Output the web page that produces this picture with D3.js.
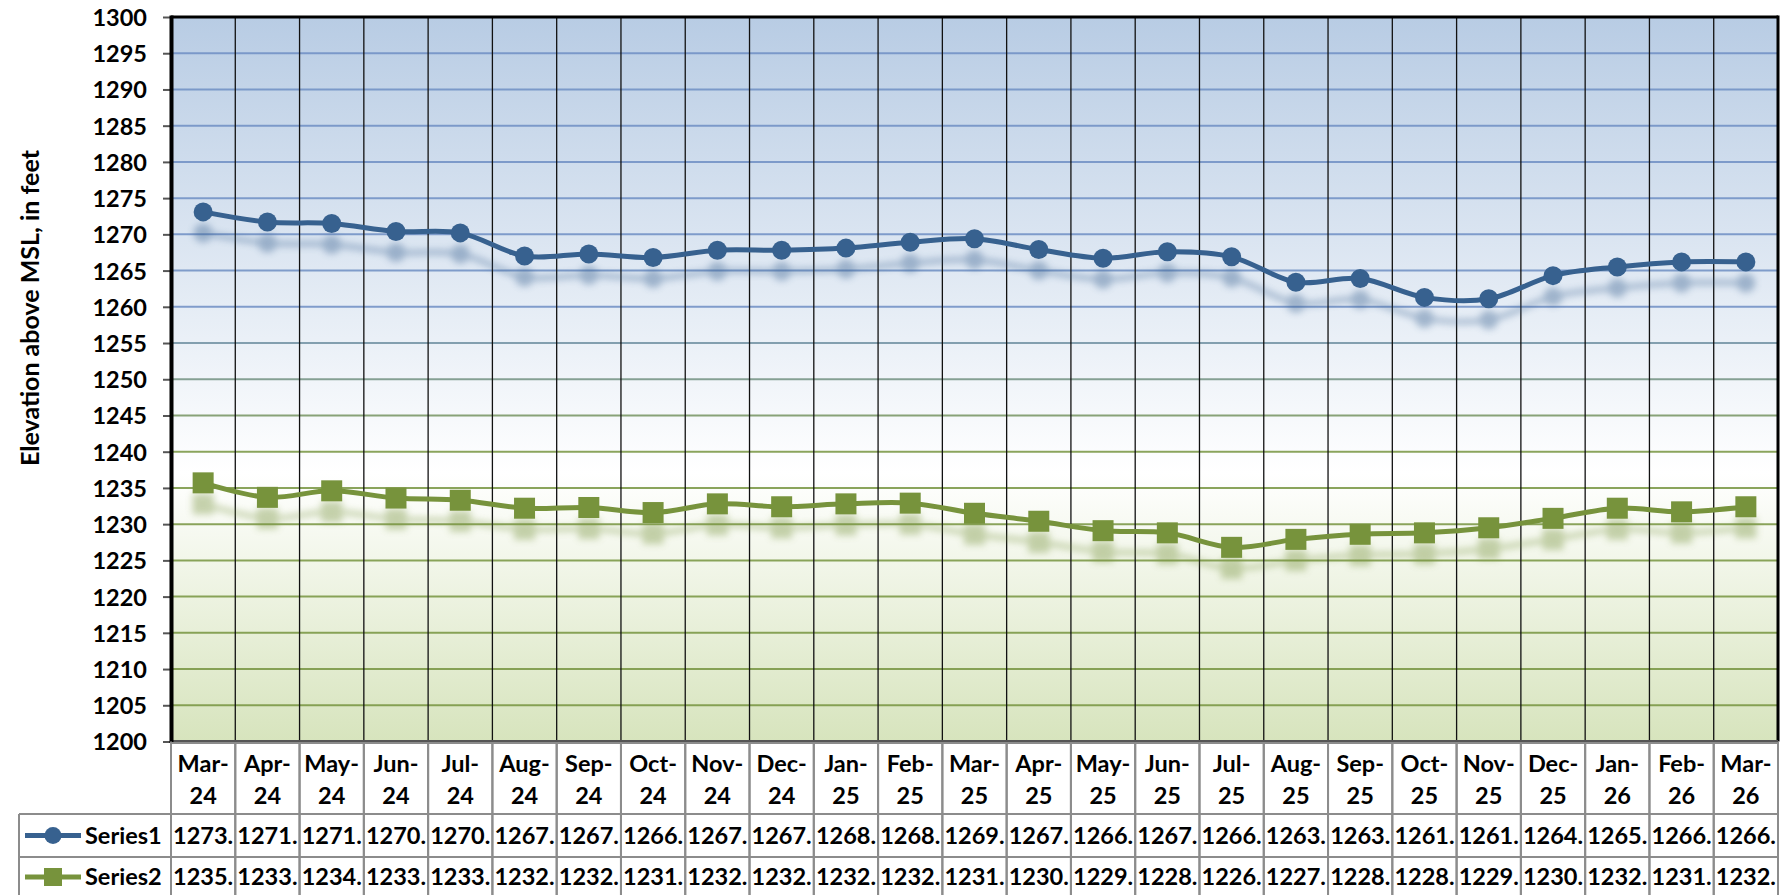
<!DOCTYPE html>
<html>
<head>
<meta charset="utf-8">
<script src="https://cdn.jsdelivr.net/npm/d3@7"></script>
<style>
  html, body { margin: 0; padding: 0; background: #fff; }
  svg text { font-family: Lato, "Open Sans", sans-serif; font-weight: 700; fill: #000; }
</style>
</head>
<body>
<div id="chart"></div>
<script>
const categories = ["Mar-24", "Apr-24", "May-24", "Jun-24", "Jul-24", "Aug-24", "Sep-24", "Oct-24",
  "Nov-24", "Dec-24", "Jan-25", "Feb-25", "Mar-25", "Apr-25", "May-25", "Jun-25", "Jul-25",
  "Aug-25", "Sep-25", "Oct-25", "Nov-25", "Dec-25", "Jan-26", "Feb-26", "Mar-26"];
const series1 = [1273.1, 1271.7, 1271.5, 1270.4, 1270.2, 1267.0, 1267.3, 1266.8, 1267.8, 1267.8,
  1268.1, 1268.9, 1269.4, 1267.9, 1266.7, 1267.6, 1266.9, 1263.4, 1263.9, 1261.3, 1261.1,
  1264.3, 1265.5, 1266.2, 1266.2];
const series2 = [1235.7, 1233.7, 1234.6, 1233.6, 1233.3, 1232.2, 1232.3, 1231.6, 1232.8, 1232.4,
  1232.8, 1232.9, 1231.5, 1230.4, 1229.1, 1228.8, 1226.8, 1227.9, 1228.6, 1228.8, 1229.5,
  1230.8, 1232.2, 1231.7, 1232.4];
const seriesNames = ["Series1", "Series2"];
const yTicks = d3.range(1200, 1301, 5);
const yTitle = "Elevation above MSL, in feet";

const width = 1785, height = 895;
const plotLeft = 171, plotRight = 1778, plotTop = 17, plotBottom = 741.5;
const rowBottoms = [814, 857, 900];
const fontSize = 23.5;

const svg = d3.select("#chart").append("svg")
    .attr("width", width)
    .attr("height", height);

const defs = svg.append("defs");
const bg = defs.append("linearGradient").attr("id", "bg")
    .attr("x1", 0).attr("y1", 0).attr("x2", 0).attr("y2", 1);
bg.append("stop").attr("offset", "0%").attr("stop-color", "#b8cce4");
bg.append("stop").attr("offset", "63%").attr("stop-color", "#ffffff");
bg.append("stop").attr("offset", "100%").attr("stop-color", "#d7e4bd");

defs.append("filter").attr("id", "blur")
    .attr("x", "-10%").attr("y", "-50%").attr("width", "120%").attr("height", "200%")
  .append("feGaussianBlur").attr("stdDeviation", 3.5);

const x = d3.scaleBand().domain(categories).range([plotLeft, plotRight]);
const y = d3.scaleLinear().domain([1200, 1300]).range([plotBottom, plotTop]);

// plot background
svg.append("rect")
    .attr("x", plotLeft).attr("y", plotTop)
    .attr("width", plotRight - plotLeft).attr("height", plotBottom - plotTop)
    .attr("fill", "url(#bg)");

// horizontal gridlines, blue at the top fading to green
const gridColor = d3.scaleLinear().domain([1260, 1240])
    .range(["#6f8fc4", "#779540"]).clamp(true);
svg.append("g").selectAll("line")
    .data(yTicks.filter(d => d > 1200 && d < 1300))
    .join("line")
    .attr("x1", plotLeft).attr("x2", plotRight)
    .attr("y1", d => y(d)).attr("y2", d => y(d))
    .attr("stroke", d => gridColor(d))
    .attr("stroke-width", 2)
    .attr("opacity", 0.85);

// vertical gridlines between categories
svg.append("g").selectAll("line")
    .data(categories.slice(1))
    .join("line")
    .attr("x1", d => x(d)).attr("x2", d => x(d))
    .attr("y1", plotTop).attr("y2", plotBottom)
    .attr("stroke", "#111")
    .attr("stroke-width", 1.3);

// y axis
const yAxis = svg.append("g")
    .attr("transform", `translate(${plotLeft},0)`)
    .call(d3.axisLeft(y).tickValues(yTicks).tickSize(8).tickPadding(16).tickFormat(d3.format("d")));
yAxis.select(".domain").remove();
yAxis.selectAll(".tick line").attr("stroke", "#555").attr("stroke-width", 2);
yAxis.selectAll(".tick text")
    .attr("font-size", fontSize)
    .attr("dy", "0.36em");

svg.append("text")
    .attr("transform", `translate(39,308) rotate(-90)`)
    .attr("text-anchor", "middle")
    .attr("font-size", 25)
    .text(yTitle);

// plot frame
svg.append("line").attr("x1", plotLeft).attr("x2", plotRight).attr("y1", plotTop).attr("y2", plotTop)
    .attr("stroke", "#000").attr("stroke-width", 3);
svg.append("line").attr("x1", plotRight).attr("x2", plotRight).attr("y1", plotTop - 1.5).attr("y2", plotBottom)
    .attr("stroke", "#000").attr("stroke-width", 3);
svg.append("line").attr("x1", plotLeft).attr("x2", plotRight).attr("y1", plotBottom).attr("y2", plotBottom)
    .attr("stroke", "#555").attr("stroke-width", 3);
svg.append("line").attr("x1", plotLeft + 0.5).attr("x2", plotLeft + 0.5).attr("y1", plotTop - 1.5).attr("y2", plotBottom + 1.5)
    .attr("stroke", "#000").attr("stroke-width", 4);

// series
const series = [
  { name: seriesNames[0], values: series1, color: "#37618f", marker: "circle" },
  { name: seriesNames[1], values: series2, color: "#77933c", marker: "square" }
];
const cx = i => x(categories[i]) + x.bandwidth() / 2;
const line = d3.line()
    .x((d, i) => cx(i))
    .y(d => y(d))
    .curve(d3.curveCardinal.tension(0));

function drawMarkers(g, s, px, py) {
  if (s.marker === "circle") {
    g.append("circle").attr("cx", px).attr("cy", py).attr("r", 9.5).attr("fill", s.color);
  } else {
    g.append("rect").attr("x", px - 10.5).attr("y", py - 10.5)
        .attr("width", 21).attr("height", 21).attr("fill", s.color);
  }
}

series.forEach(s => {
  // soft shadow below the series
  const sh = svg.append("g")
      .attr("transform", "translate(0,21)")
      .attr("filter", "url(#blur)")
      .attr("opacity", 0.4);
  sh.append("path").attr("d", line(s.values))
      .attr("fill", "none").attr("stroke", s.color).attr("stroke-width", 5);
  s.values.forEach((v, i) => drawMarkers(sh, s, cx(i), y(v)));

  const g = svg.append("g");
  g.append("path").attr("d", line(s.values))
      .attr("fill", "none").attr("stroke", s.color).attr("stroke-width", 5);
  s.values.forEach((v, i) => drawMarkers(g, s, cx(i), y(v)));
});

// data table
const table = svg.append("g");
const border = "#8c8c8c";
table.selectAll(".hcell")
    .data(categories)
    .join("rect")
    .attr("x", d => x(d)).attr("y", plotBottom + 1.5)
    .attr("width", x.bandwidth()).attr("height", rowBottoms[2] - plotBottom)
    .attr("fill", "none").attr("stroke", border).attr("stroke-width", 2);
[rowBottoms[0], rowBottoms[1]].forEach(yy => {
  table.append("line").attr("x1", 19).attr("x2", plotRight).attr("y1", yy).attr("y2", yy)
      .attr("stroke", border).attr("stroke-width", 2);
});
table.append("line").attr("x1", 19).attr("x2", 19).attr("y1", rowBottoms[0]).attr("y2", height)
    .attr("stroke", border).attr("stroke-width", 2);
table.append("line").attr("x1", plotLeft).attr("x2", plotLeft).attr("y1", plotBottom).attr("y2", height)
    .attr("stroke", border).attr("stroke-width", 2);

// category labels, two lines each
categories.forEach(c => {
  const parts = c.split("-");
  const t = table.append("text")
      .attr("text-anchor", "middle")
      .attr("font-size", fontSize);
  t.append("tspan").attr("x", x(c) + x.bandwidth() / 2).attr("y", 771.5).text(parts[0] + "-");
  t.append("tspan").attr("x", x(c) + x.bandwidth() / 2).attr("y", 804).text(parts[1]);
});

// series rows
const rowCenters = [835.5, 877];
series.forEach((s, k) => {
  const yc = rowCenters[k];
  table.append("line").attr("x1", 25).attr("x2", 81).attr("y1", yc).attr("y2", yc)
      .attr("stroke", s.color).attr("stroke-width", 5);
  if (s.marker === "circle") {
    table.append("circle").attr("cx", 53).attr("cy", yc).attr("r", 8.5).attr("fill", s.color);
  } else {
    table.append("rect").attr("x", 53 - 9).attr("y", yc - 9).attr("width", 18).attr("height", 18).attr("fill", s.color);
  }
  table.append("text").attr("x", 85).attr("y", yc).attr("dy", "0.36em")
      .attr("font-size", fontSize).text(s.name);
  table.selectAll(null)
      .data(s.values)
      .join("text")
      .attr("x", (d, i) => cx(i))
      .attr("y", yc)
      .attr("dy", "0.36em")
      .attr("text-anchor", "middle")
      .attr("font-size", fontSize)
      .text(d => Math.floor(d) + ".");
});
</script>
</body>
</html>
